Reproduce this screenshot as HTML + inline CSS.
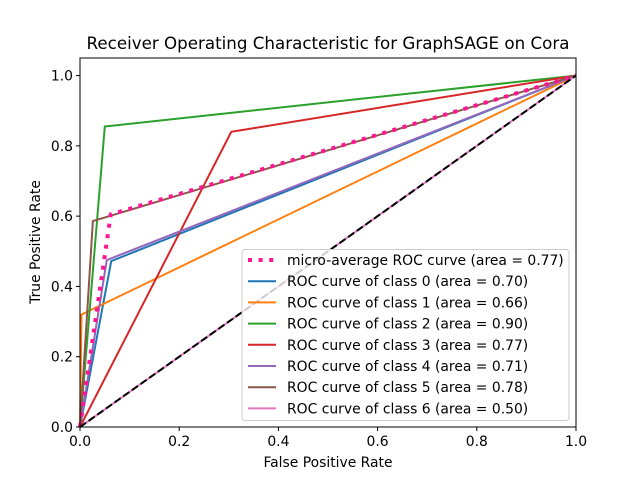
<!DOCTYPE html>
<html><head><meta charset="utf-8"><style>body{margin:0;background:#fff}svg{display:block;font-family:"DejaVu Sans","Liberation Sans",sans-serif}</style></head>
<body>
<svg width="640" height="480">
<rect x="0" y="0" width="640" height="480" fill="#fff"/>
<text x="328" y="49" font-size="16.7" text-anchor="middle">Receiver Operating Characteristic for GraphSAGE on Cora</text>
<g id="plot"></g>
<text x="328" y="467" font-size="13.9" text-anchor="middle">False Positive Rate</text>
<text x="40" y="242" font-size="13.9" text-anchor="middle" transform="rotate(-90 40 242)">True Positive Rate</text>
</svg>
<script>
const xTicks=[0,0.2,0.4,0.6,0.8,1.0];
const yTicks=[0,0.2,0.4,0.6,0.8,1.0];
const seriesNames=["micro-average ROC curve (area = 0.77)","ROC curve of class 0 (area = 0.70)","ROC curve of class 1 (area = 0.66)","ROC curve of class 2 (area = 0.90)","ROC curve of class 3 (area = 0.77)","ROC curve of class 4 (area = 0.71)","ROC curve of class 5 (area = 0.78)","ROC curve of class 6 (area = 0.50)"];
const seriesFpr=[[0,0.062,1],[0,0.063,1],[0,0.003,1],[0,0.05,1],[0,0.305,1],[0,0.054,1],[0,0.026,1],[0,1]];
const seriesTpr=[[0,0.605,1],[0,0.472,1],[0,0.32,1],[0,0.855,1],[0,0.84,1],[0,0.475,1],[0,0.586,1],[0,1]];
const colors=["deeppink","#1f77b4","#ff7f0e","#2ca02c","#d62728","#9467bd","#8c564b","#e377c2"];
const NS="http://www.w3.org/2000/svg";
const L=80,R=576,T=58,B=427;
const X=v=>L+v*(R-L);
const Y=v=>B-v/1.05*(B-T);
const g=document.getElementById('plot');
function mk(t,a){const e=document.createElementNS(NS,t);for(const k in a)e.setAttribute(k,a[k]);return e;}
const order=[1,2,3,4,5,6,7,0];
order.forEach(i=>{
 const pts=seriesFpr[i].map((f,j)=>X(f)+','+Y(seriesTpr[i][j])).join(' ');
 const p=mk('polyline',{points:pts,fill:'none',stroke:colors[i],'stroke-width':i==0?4:2});
 if(i==0)p.setAttribute('stroke-dasharray','4 6.6');
 
 
 g.appendChild(p);
});
const diag=mk('line',{x1:X(0),y1:Y(0),x2:X(1),y2:Y(1),stroke:'#000','stroke-width':2,'stroke-dasharray':'7.4 3.2'});


g.appendChild(diag);
const fr=mk('rect',{x:L,y:T,width:R-L,height:B-T,fill:'none',stroke:'#000','stroke-width':1});


g.appendChild(fr);
xTicks.forEach(v=>{
 g.appendChild(mk('line',{x1:X(v),y1:B,x2:X(v),y2:B+4,stroke:'#000'}));
 const t=mk('text',{x:X(v),y:B+19,'font-size':13.9,'text-anchor':'middle'});t.textContent=v.toFixed(1);
 
 
 g.appendChild(t);
});
yTicks.forEach(v=>{
 g.appendChild(mk('line',{x1:L-4,y1:Y(v),x2:L,y2:Y(v),stroke:'#000'}));
 const t=mk('text',{x:L-7,y:Y(v)+5,'font-size':13.9,'text-anchor':'end'});t.textContent=v.toFixed(1);
 
 
 g.appendChild(t);
});
const lg=mk('g',{});


lg.appendChild(mk('rect',{x:242,y:249.5,width:327,height:171,rx:3,fill:'#fff','fill-opacity':0.8,stroke:'#ccc'}));
seriesNames.forEach((n,i)=>{
 const y=260+i*21.2;
 const ln=mk('line',{x1:248,y1:y,x2:276,y2:y,stroke:colors[i],'stroke-width':i==0?4:2});
 if(i==0)ln.setAttribute('stroke-dasharray','4 6.6');
 lg.appendChild(ln);
 const t=mk('text',{x:287,y:y+5,'font-size':13.9});t.textContent=n;
 
 
 lg.appendChild(t);
});
g.appendChild(lg);
</script>
</body></html>
